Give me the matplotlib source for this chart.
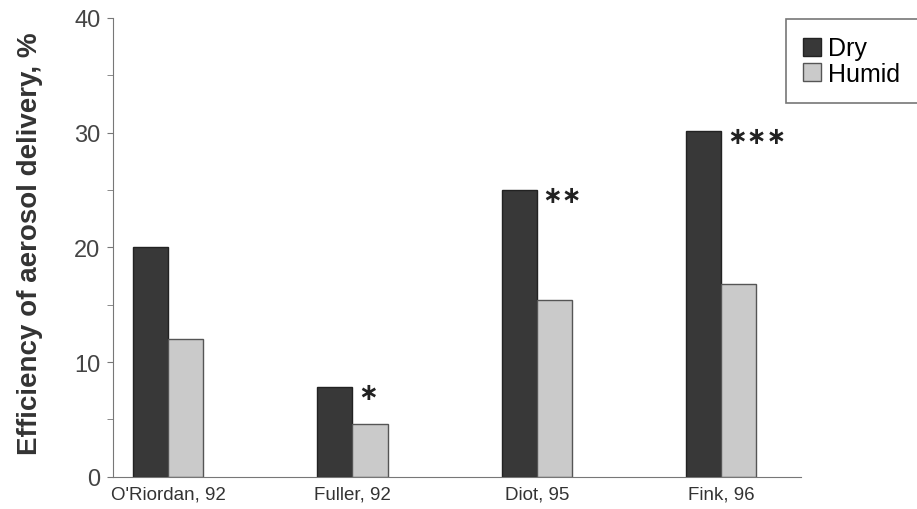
import numpy as np
import matplotlib.pyplot as plt

studies = ["O'Riordan, 92", "Fuller, 92", "Diot, 95", "Fink, 96"]
dry = [20.0, 7.8, 25.0, 30.1]
humid = [12.0, 4.6, 15.4, 16.8]
stars = ["", "*", "**", "***"]

plt.rcParams['font.family'] = ['Liberation Sans', 'DejaVu Sans']

fig = plt.figure(figsize=(9.17, 5.10), dpi=100)
ax = fig.add_axes([0.123, 0.063, 0.75, 0.9])

x = np.arange(len(studies))
w = 0.19
ax.bar(x - w / 2, dry, w, color='#383838', edgecolor='#222222', linewidth=1, label='Dry')
ax.bar(x + w / 2, humid, w, color='#cacaca', edgecolor='#555555', linewidth=1, label='Humid')

# significance markers next to the dry bars
for i, s in enumerate(stars):
    if s:
        ax.text(x[i] + 0.03, dry[i] - 0.4, s.replace('*', '\u2217'), ha='left', va='center',
                fontsize=17, fontweight='bold', color='#222222', family='DejaVu Sans')

ax.set_xlim(-0.3, 3.43)
ax.set_ylim(0, 40)
ax.set_yticks([0, 10, 20, 30, 40])
ax.set_yticks([5, 15, 25, 35], minor=True)
ax.set_xticks(x)
ax.set_xticklabels(studies, fontsize=13.5, color='#333333')
ax.tick_params(axis='x', length=0, pad=6)
ax.tick_params(axis='y', which='both', direction='out', length=4, color='#777777',
               labelsize=17, labelcolor='#444444', pad=5)
ax.spines['top'].set_visible(False)
ax.spines['right'].set_visible(False)
ax.spines['left'].set_color('#777777')
ax.spines['bottom'].set_color('#777777')
ax.set_ylabel("Efficiency of aerosol delivery, %", fontsize=20, fontweight='bold', color='#333333')
ax.yaxis.set_label_coords(-0.102, 0.51)

leg = fig.legend(loc='upper left', bbox_to_anchor=(0.857, 0.961), borderaxespad=0,
                 prop={'family': 'Liberation Sans', 'size': 18},
                 frameon=True, fancybox=False, edgecolor='#555555', handlelength=0.72, handleheight=0.72,
                 handletextpad=0.28, labelspacing=0.05, borderpad=0.7)
leg.get_frame().set_linewidth(1.2)

plt.savefig("out.png", dpi=100)
